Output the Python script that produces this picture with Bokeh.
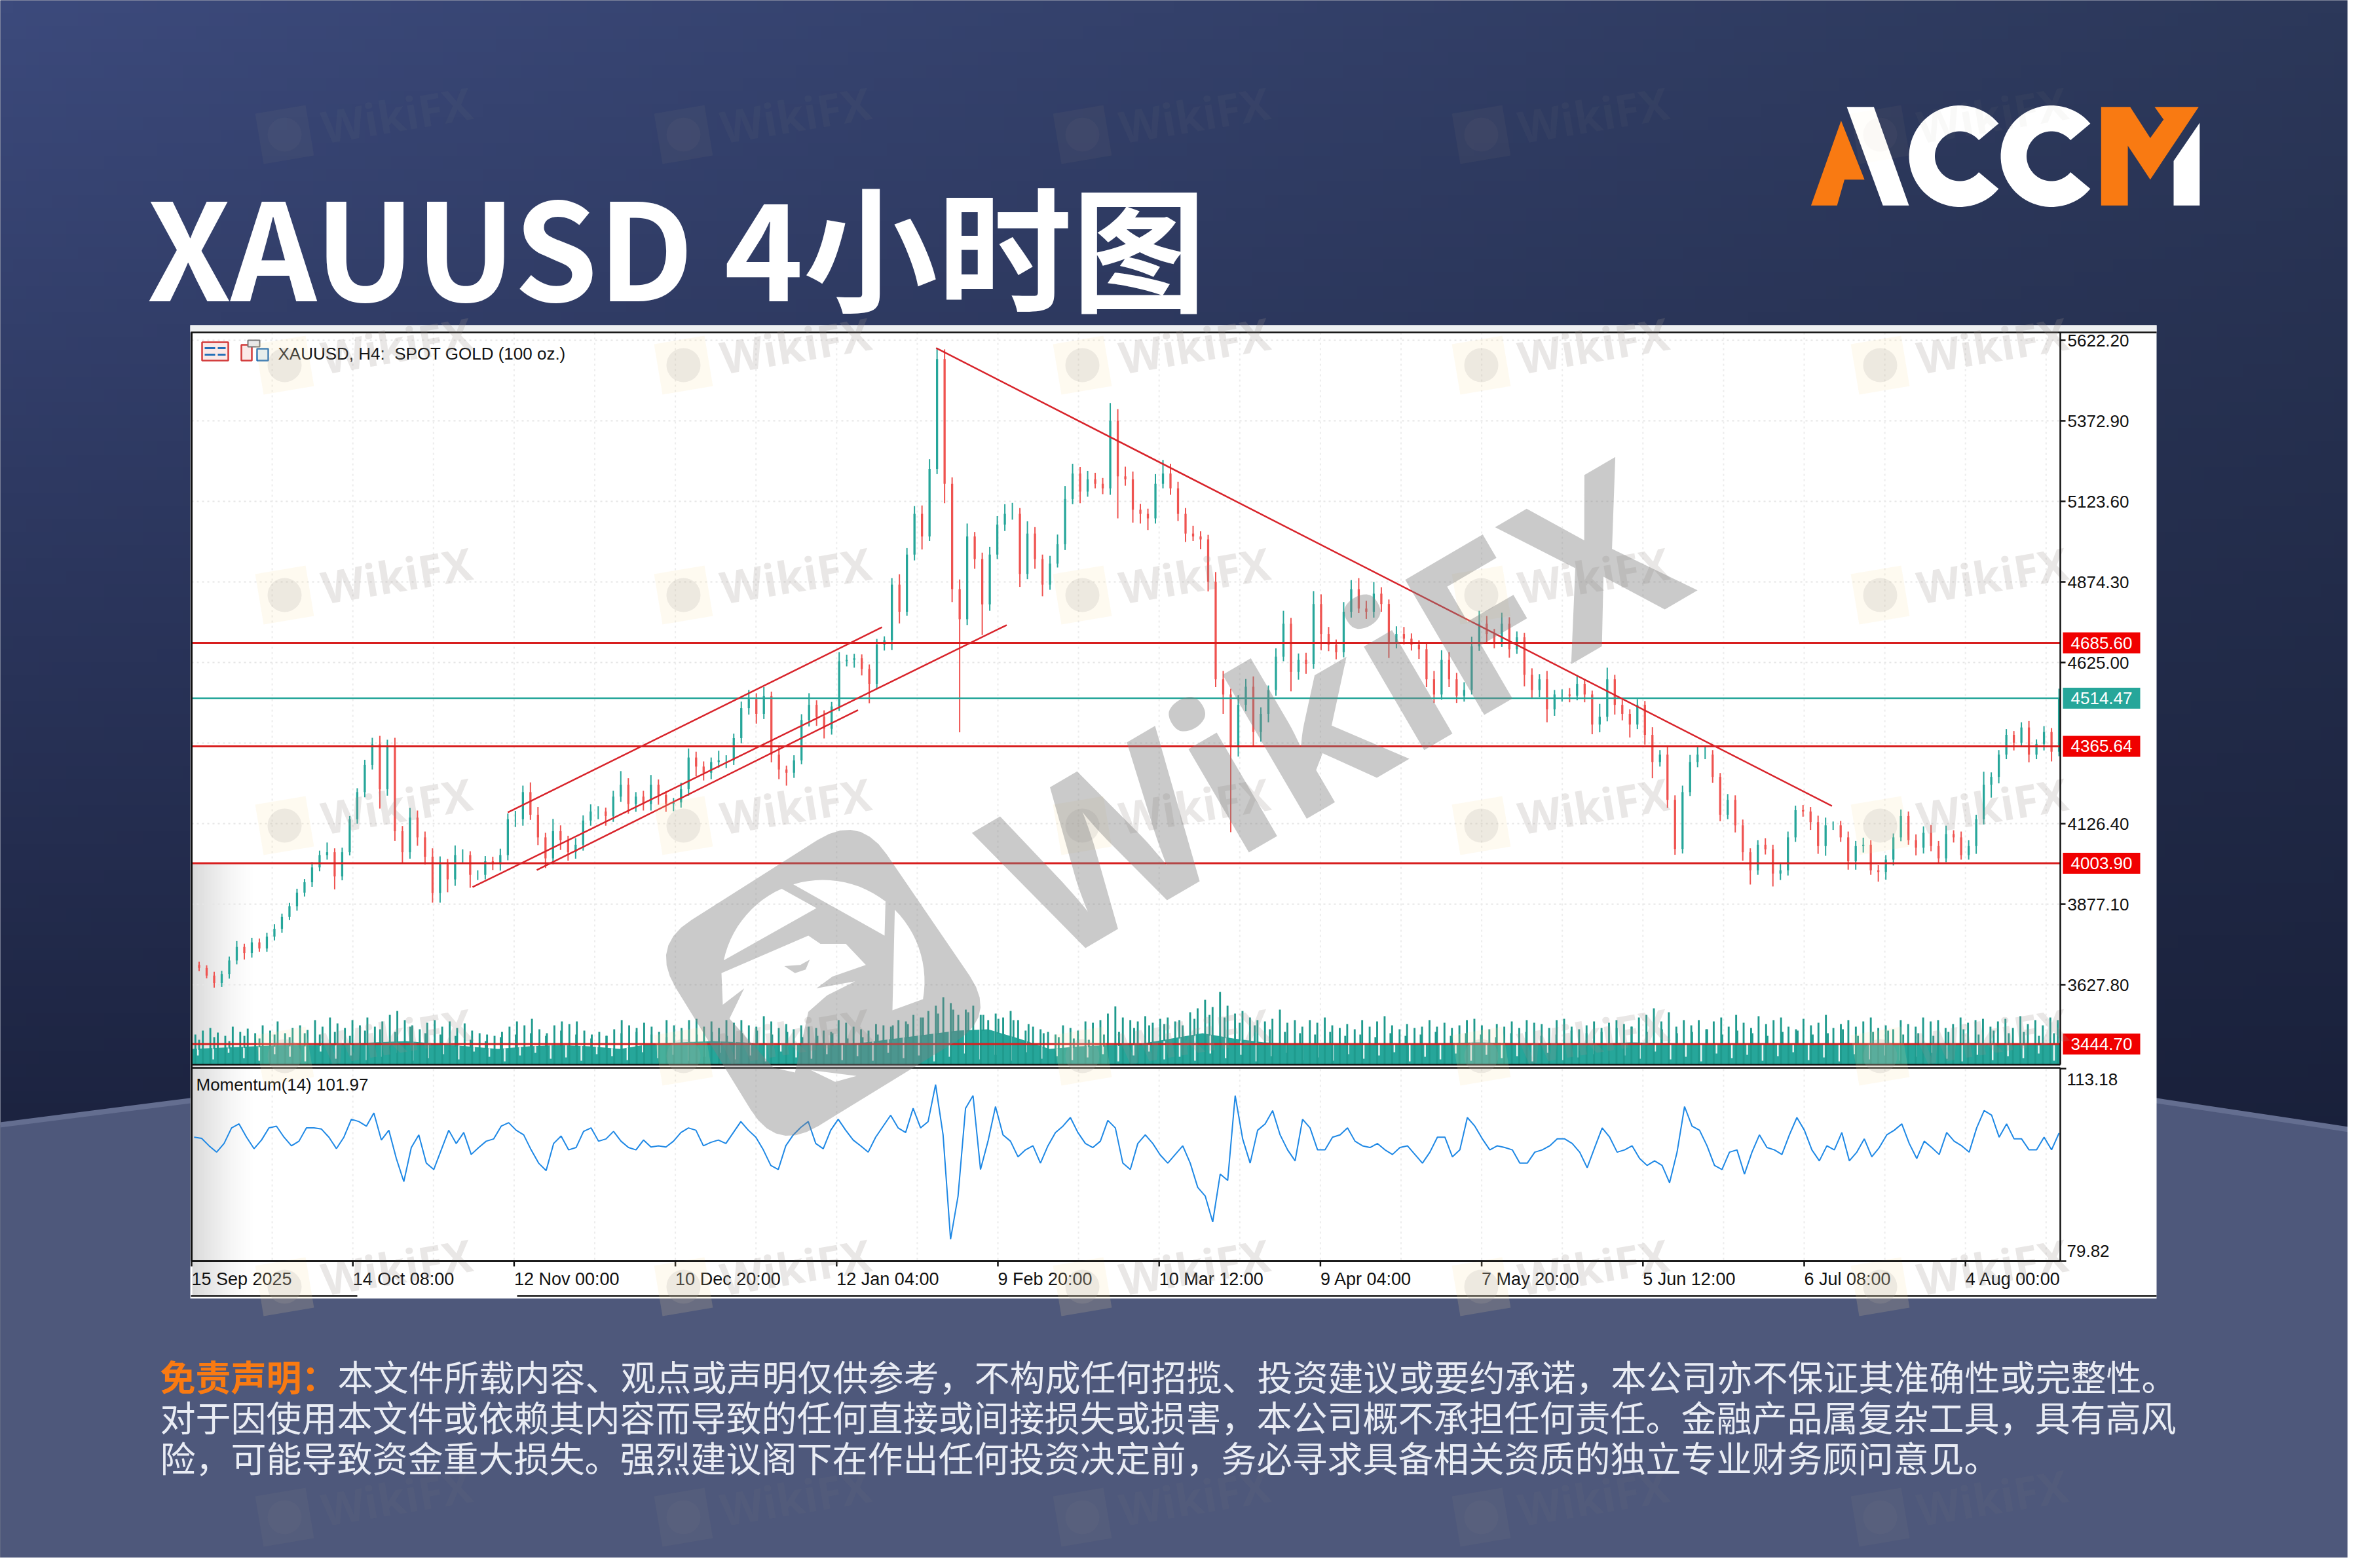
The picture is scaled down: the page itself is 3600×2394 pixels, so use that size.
import numpy as np
from bokeh.core.properties import value
from bokeh.embed import file_html
from bokeh.models import FixedTicker, LinearAxis, PrintfTickFormatter, Range1d
from bokeh.plotting import figure
from bokeh.resources import INLINE

# ---------- data ----------
closes = [3689,3680,3656,3633,3661,3703,3745,3726,3759,3740,3777,3801,3838,3871,3913,3945,3991,4029,4038,3963,
4038,4140,4224,4308,4372,4233,4368,4103,4038,4145,4084,4024,3912,4001,3954,4029,4029,3968,3968,4010,
4001,4029,4140,4140,4224,4154,4084,4019,4103,4075,4038,4061,4136,4164,4164,4150,4210,4247,4187,4210,
4187,4247,4215,4187,4192,4233,4331,4303,4284,4317,4322,4322,4391,4484,4512,4466,4521,4340,4294,4284,
4322,4447,4494,4457,4420,4489,4629,4633,4638,4605,4559,4680,4694,4866,4782,4959,5085,5015,5224,5564,
5178,4852,4759,5015,4945,4805,4959,5052,5085,5085,4899,5024,4945,4866,4931,4991,5131,5210,5154,5192,
5178,5164,5373,5201,5192,5098,5085,5071,5178,5210,5164,5085,5024,5015,5006,4875,4573,4526,4364,4494,
4550,4410,4466,4540,4643,4745,4596,4633,4620,4806,4713,4680,4657,4782,4852,4792,4782,4838,4806,4689,
4713,4699,4680,4666,4573,4526,4633,4573,4522,4540,4675,4745,4713,4689,4745,4666,4703,4587,4540,4573,
4480,4526,4526,4522,4559,4526,4433,4457,4573,4494,4466,4433,4494,4401,4317,4340,4200,4048,4224,4317,
4340,4340,4271,4154,4200,4121,4038,3982,4061,4047,3972,3982,4084,4168,4164,4131,4057,4121,4121,4084,
4010,4057,4061,3982,3977,4015,4084,4150,4075,4052,4098,4057,4019,4094,4084,4029,4057,4140,4247,4271,
4340,4401,4377,4424,4340,4373,4410,4349,4514]
wick_up = [14,10,8,12,10,12,18,10,14,12, 12,14,10,10,12,10,16,14,30,12, 14,10,12,16,20,26,18,24,16,30,
22,18,26,24,16,30,18,12,14,16, 14,20,18,26,20,30,24,14,38,18, 14,20,16,22,16,12,18,42,20,14,
18,30,16,12,14,20,28,18,16,14, 30,16,14,20,28,18,28,14,24,12, 16,18,36,14,20,14,28,16,14,12,
14,18,12,20,32,20,24,26,30,35, 30,20,30,40,14,20,24,26,30,34, 18,38,20,14,24,30,40,30,20,26,
20,18,55,36,30,24,18,16,30,42, 30,20,18,24,16,14,30,26,18,30, 24,32,20,14,26,40,18,20,22,40,
30,22,16,30,28,34,24,36,20,14, 24,22,16,14,20,26,30,24,20,24, 30,40,24,16,34,20,18,14,20,16,
26,14,16,20,24,14,12,40,36,14, 16,14,18,12,24,14,26,14,20,22, 26,24,14,12,18,14,18,12,14,20,
14,24,18,14,16,14,20,24,12,14, 18,16,22,14,16,14,12,20,14,18, 20,24,16,26,12,18,18,14,40,14,
14,18,12,16,20,14,18,12,30,10]
wick_dn = [12,10,8,14,12,14,12,20,14,10, 10,12,12,10,14,12,14,12,14,40, 12,10,14,16,14,60,20,30,34,20,
26,24,30,30,40,20,24,40,16,14, 18,20,16,24,20,16,24,30,18,30, 26,20,18,16,24,30,18,16,30,24,
20,20,30,24,22,16,20,30,24,20, 18,24,14,16,20,30,16,24,30,40, 16,12,20,28,30,18,14,16,24,20,
60,14,18,30,36,12,18,40,14,16, 60,40,350,18,30,95,20,14,20,18, 40,16,30,36,16,12,18,16,36,16,
14,18,20,130,20,40,30,36,16,14, 20,22,26,14,30,30,24,60,264,30, 20,44,30,26,18,14,60,24,30,14,
50,20,22,16,18,14,22,18,24,50, 20,18,18,30,24,26,16,24,22,18, 14,14,30,20,16,26,14,36,24,22,
40,20,22,20,14,24,30,24,14,30, 20,40,14,30,50,14,25,18,14,12, 16,14,18,20,14,22,26,44,14,16,
40,20,16,14,16,24,24,30,14,14, 26,26,20,14,30,24,18,12,14,24, 18,16,14,12,16,14,14,24,16,40,
20,14,24,12,24,14,20,30,14,10]

# Momentum, about every six bars
momentum = [101.3,101.1,99.8,98.7,100.2,102.9,103.6,101.3,99.3,100.8,102.9,103.2,101.3,99.8,100.6,102.9,102.9,102.7,101.3,99.3,
101.3,104.4,104.0,103.2,105.5,100.8,102.5,97.6,93.6,99.5,101.7,96.8,95.7,99.1,102.5,100.2,102.1,98.3,99.5,100.6,
101.0,103.2,103.8,102.5,101.7,99.1,96.8,95.5,100.2,101.5,99.1,99.5,102.3,102.9,100.6,101.0,102.3,100.6,99.5,99.1,
100.8,99.6,99.8,99.6,100.6,102.1,102.9,102.5,99.8,100.4,100.8,100.2,102.1,104.0,102.5,101.3,99.1,96.4,95.7,99.8,
101.7,103.0,104.0,100.2,99.3,102.5,104.4,102.5,100.8,99.8,98.7,101.3,103.2,105.1,102.9,102.1,106.3,102.9,104.0,110.4,
101.7,83.6,91.1,106.3,108.5,95.7,100.6,106.6,101.7,100.6,97.9,99.1,99.8,96.8,99.8,102.1,103.2,104.7,102.1,100.2,
99.5,100.6,104.2,102.9,96.8,95.7,100.2,101.7,100.2,98.2,96.8,98.3,99.8,96.8,92.6,91.1,86.6,94.9,93.8,108.5,
101.0,96.8,102.5,103.6,105.9,101.7,99.1,97.2,104.4,102.9,99.1,99.1,101.3,101.7,102.9,100.6,99.8,99.5,100.2,99.1,
98.3,99.5,99.8,98.3,96.8,98.7,101.3,101.3,97.9,99.1,104.7,103.2,101.0,99.1,99.8,99.5,99.1,96.8,96.8,98.7,
99.1,99.8,101.0,101.0,100.2,98.7,96.0,99.5,102.9,101.3,98.7,99.1,99.8,97.6,96.4,97.2,96.4,93.4,98.7,106.6,
103.2,102.5,99.8,96.4,95.7,98.7,99.1,94.9,98.7,101.7,99.5,99.1,98.3,101.7,104.7,102.5,99.1,97.2,99.8,99.1,
102.1,97.2,98.7,101.0,97.9,99.5,101.7,102.5,103.6,100.2,97.6,100.6,99.5,98.3,102.1,100.6,99.8,98.7,102.9,105.9,
105.1,101.3,103.6,101.0,101.0,99.1,99.1,101.3,99.1,102.0]

# Volume, thin tall bars about every six bars
vol_peak = [46,52,56,49,44,58,50,55,48,60, 52,66,48,56,60,53,68,58,72,63, 56,68,60,72,58,66,76,82,68,60,
54,64,68,58,66,56,63,52,48,46, 44,50,58,66,60,70,54,48,60,66, 62,66,52,46,50,44,54,68,60,56,
64,58,50,68,60,56,68,70,58,66, 56,68,64,68,60,58,74,66,56,62, 54,60,58,56,52,50,68,64,58,54,
52,62,60,58,68,66,76,72,82,90, 103,94,76,84,90,76,68,78,72,82, 68,52,58,54,50,46,60,56,52,66,
64,68,78,89,72,68,66,74,64,70, 72,66,60,80,86,99,88,111,90,78, 82,72,68,66,70,84,64,68,58,68,
64,72,60,56,62,54,68,58,66,74, 60,54,62,56,58,68,58,64,56,60, 68,70,60,54,62,58,66,56,68,64,
62,56,68,70,58,54,60,66,56,64, 68,62,58,72,76,86,66,80,58,68, 60,68,54,66,72,58,76,64,56,74,
62,68,72,58,54,70,60,64,76,56, 62,68,58,66,72,56,60,54,68,62, 58,72,66,68,56,62,72,64,68,70,
58,66,70,56,74,62,68,60,72,68]
# Volume, shorter bars between them, about every twelve bars
vol_mid = [38,42,36,44,40,46,42,48,46,50,44,52,54,50,58,48,46,44,38,36,42,46,48,44,52,46,40,44,48,50,46,42,
52,46,50,44,48,52,46,50,42,44,48,40,42,46,60,62,72,78,84,80,76,70,68,62,48,42,40,38,46,50,56,60,
62,68,70,76,72,64,60,54,50,48,46,50,44,46,42,48,44,46,50,44,48,46,42,48,50,44,46,52,48,50,56,58,
50,54,48,50,54,46,52,48,44,50,52,46,48,54,44,50,52,46,48,44,50,54,46,52,48,50,44,48]
# Volume, solid mass, every twenty-four bars
vol_body = [24,26,28,30,30,32,34,36,32,28,24,28,30,28,24,32,34,36,34,30,32,30,34,40,46,52,54,40,24,28,30,32,
40,48,40,34,32,33,32,31,32,33,34,33,32,31,32,34,33,32,31,33,32,31,33,32,31,32,33,32,31,32]
# Volume, low bars (white notches), every twelve bars
vol_low = [14,8,18,10,6,16,12,5,20,9,14,7,12,18,6,10,16,8,20,12,5,14,18,9,11,6,16,13,7,19,10,15,
6,12,18,8,14,5,20,11,9,16,7,13,6,18,10,14,5,12,17,8,15,6,19,9,13,7,11,16,5,14,20,8,
12,6,17,10,15,5,13,18,7,11,6,16,9,14,19,5,12,8,17,6,15,10,13,5,18,7,11,16,6,14,9,20,
8,12,5,17,10,15,6,13,19,7,11,5,16,8,14,6,12,18,9,5,15,7,13,10,17,6]

price_ticks = [5622.20, 5372.90, 5123.60, 4874.30, 4625.00, 4126.40, 3877.10, 3627.80]
price_hidden_tick = 4375.70
mom_ticks = [113.18, 79.82]
date_bars = [0, 128, 256, 384, 512, 640, 768, 896, 1024, 1152, 1280, 1408]
date_labels = ["15 Sep 2025", "14 Oct 08:00", "12 Nov 00:00", "10 Dec 20:00", "12 Jan 04:00", "9 Feb 20:00",
               "10 Mar 12:00", "9 Apr 04:00", "7 May 20:00", "5 Jun 12:00", "6 Jul 08:00", "4 Aug 00:00"]
red_levels = [4685.60, 4365.64, 4003.90, 3444.70]
last_price = 4514.47
trend_bars = [[591, 1302], [251, 548], [223, 647], [274, 529]]
trend_prices = [[5598, 4181], [4161, 4734], [3930, 4741], [3983, 4478]]

title_text = "XAUUSD 4小时图"
chart_title = "XAUUSD, H4:\u00a0\u00a0SPOT GOLD (100 oz.)"
mom_title = "Momentum(14) 101.97"
disc_head = "免责声明\uff1a"
disc_1 = "本文件所载内容、观点或声明仅供参考\uff0c不构成任何招揽、投资建议或要约承诺\uff0c本公司亦不保证其准确性或完整性。"
disc_2 = "对于因使用本文件或依赖其内容而导致的任何直接或间接损失或损害\uff0c本公司概不承担任何责任。金融产品属复杂工具\uff0c具有高风"
disc_3 = "险\uff0c可能导致资金重大损失。强烈建议阁下在作出任何投资决定前\uff0c务必寻求具备相关资质的独立专业财务顾问意见。"

# ---------- geometry of the page ----------
LEFT, RIGHT, TOP, BOTTOM = 8, 3592, 8, 2386
PX_PER_BAR = 246.2 / 128
AX_X = 3153
X0_BAR = 300
def bar_of(px): return (px - X0_BAR) / PX_PER_BAR
PRICE_Y0, PRICE_REF, PX_PER_PRICE = 527.0, 5622.2, 0.4934
def price_of(py): return PRICE_REF - (py - PRICE_Y0) / PX_PER_PRICE
MOM_Y0, MOM_REF, MOM_PER_PX = 1639.0, 113.18, 33.36 / 294
def mom_of(py): return MOM_REF - (py - MOM_Y0) * MOM_PER_PX
VOL_Y0 = 1633.0
def vol_of(py): return VOL_Y0 - py

p = figure(width=RIGHT - LEFT, height=BOTTOM - TOP, x_range=Range1d(LEFT, RIGHT), y_range=Range1d(BOTTOM, TOP),
           x_axis_type=None, y_axis_type=None, min_border=0, toolbar_location=None, output_backend="svg",
           outline_line_color=None, background_fill_color="#2a3558", border_fill_color="#2a3558")
p.grid.visible = False
p.extra_x_ranges["bars"] = Range1d(bar_of(LEFT), bar_of(RIGHT))
p.extra_y_ranges["price"] = Range1d(price_of(BOTTOM), price_of(TOP))
p.extra_y_ranges["mom"] = Range1d(mom_of(BOTTOM), mom_of(TOP))
p.extra_y_ranges["vol"] = Range1d(vol_of(BOTTOM), vol_of(TOP))
p.extra_y_ranges["up"] = Range1d(-BOTTOM, -TOP)

# ---------- backdrop ----------
def rgba(r, g, b, a=255):
    return (a << 24) | (b << 16) | (g << 8) | r
gh, gw = 120, 180
fy = np.linspace(0, 1, gh)[:, None]   # 0 bottom, 1 top
fx = np.linspace(0, 1, gw)[None, :]
TL, TR, BL, BR = (60, 74, 124), (44, 56, 90), (27, 34, 62), (25, 32, 58)
chan = []
for ci in range(3):
    t = TL[ci] * (1 - fx) + TR[ci] * fx
    b = BL[ci] * (1 - fx) + BR[ci] * fx
    f = np.clip((fy - 0.25) / 0.75, 0, 1)
    chan.append((b * (1 - f) + t * f).astype(np.uint32))
bg = (255 << 24) | (chan[2] << 16) | (chan[1] << 8) | chan[0]
p.image_rgba(image=[bg.astype(np.uint32)], x=LEFT, y=-BOTTOM, dw=RIGHT - LEFT, dh=BOTTOM - TOP, y_range_name="up")

low_x = [0, 298, 1800, 3300, 3600, 3600, 0]
low_y = [1726, 1688, 1660, 1688, 1733, 2394, 2394]
p.patch(low_x, low_y, fill_color="#4e587b", line_color=None)
p.line(low_x[:5], low_y[:5], line_color="#646e90", line_width=8)

# ---------- title ----------
p.text([232], [378], text=[title_text], text_font=value("Noto Sans CJK SC"), text_font_style="bold",
       text_font_size="205px", text_color="white", text_baseline="middle", text_align="left")

# ---------- logo ----------
def L(pts):
    return [2650 + a / 1.96 for a, _ in pts], [100 + b / 3 for _, b in pts]
ORANGE = "#f97a12"
for pts, col in [
    ([(240, 664), (330, 275), (400, 545), (340, 545), (318, 664)], ORANGE),
    ([(347, 212), (428, 212), (533, 664), (455, 664)], "white"),
    ([(1108, 212), (1195, 212), (1255, 355), (1295, 270), (1268, 212), (1400, 212), (1255, 545), (1188, 390), (1188, 664), (1108, 664)], ORANGE),
    ([(1403, 285), (1403, 664), (1325, 664), (1325, 460)], "white"),
]:
    xs, ys = L(pts)
    p.patch(xs, ys, fill_color=col, line_color=None)
for cx in (2999.5, 3139.5):
    a = np.radians(np.linspace(40, 320, 60))
    xs = np.r_[cx + 77.5 * np.cos(a), cx + 38 * np.cos(a[::-1])]
    ys = np.r_[246 - 77.5 * np.sin(a), 246 - 38 * np.sin(a[::-1])]
    p.patch(xs, ys, fill_color="white", line_color=None)

# ---------- chart panel ----------
p.quad(left=[298], right=[3300], top=[504], bottom=[1990], fill_color="white", line_color=None)
p.quad(left=[298], right=[3300], top=[504], bottom=[514], fill_color="#eef0f2", line_color=None)
shade = np.zeros((1, 40), dtype=np.uint32)
shade[0, :] = [rgba(0, 0, 0, int(38 * (1 - i / 39) ** 1.4)) for i in range(40)]
p.image_rgba(image=[shade], x=301, y=-1985, dw=100, dh=660, y_range_name="up")

# grid
grid_bars = np.arange(0, 1483, 64)
bar_end = bar_of(AX_X)
ptop, pbot = price_of(515), price_of(1633)
p.segment(x0=0, x1=bar_end, y0=price_ticks + [price_hidden_tick], y1=price_ticks + [price_hidden_tick],
          x_range_name="bars", y_range_name="price", line_color="#e6e6e6", line_width=2, line_dash="3 5")
p.segment(x0=grid_bars, x1=grid_bars, y0=ptop, y1=pbot, x_range_name="bars", y_range_name="price",
          line_color="#ececec", line_width=2, line_dash="3 5")
p.segment(x0=grid_bars, x1=grid_bars, y0=mom_of(1640), y1=mom_of(1933), x_range_name="bars", y_range_name="mom",
          line_color="#ececec", line_width=2, line_dash="3 5")

# volume
body = np.array(vol_body, float)
body_x = np.linspace(0, bar_end, len(body))
p.varea(x=body_x, y1=np.zeros(len(body)), y2=body, x_range_name="bars", y_range_name="vol", fill_color="#26a69a")
low = np.array(vol_low, float)
low_bars = np.linspace(5, bar_end - 5, len(low))
low_top = np.interp(low_bars, body_x, body)
p.vbar(x=low_bars, width=1.3, top=low_top, bottom=low, x_range_name="bars", y_range_name="vol",
       fill_color="#e8f6f4", line_color=None)
mid = np.array(vol_mid, float)
p.vbar(x=np.linspace(6, bar_end - 5, len(mid)), width=1.5, top=mid, bottom=np.interp(np.linspace(6, bar_end - 5, len(mid)), body_x, body) - 2,
       x_range_name="bars", y_range_name="vol", fill_color="#1f9a8d", line_color=None)
peak = np.array(vol_peak, float)
p.vbar(x=np.linspace(3, bar_end - 2, len(peak)), width=1.5, top=peak, bottom=0, x_range_name="bars", y_range_name="vol",
       fill_color="#1f9a8d", line_color=None)

# candles
c = np.array(closes, float)
o = np.r_[c[0], c[:-1]]
n = len(c)
up = np.array(wick_up[:n], float)
dn = np.array(wick_dn[:n], float)
hi = np.maximum(o, c) + up
lo = np.minimum(o, c) - dn
bx = np.linspace(0, bar_end - 1, n)
cols = np.where(c >= o, "#26a69a", "#ef5350").tolist()
p.segment(x0=bx, x1=bx, y0=lo, y1=hi, x_range_name="bars", y_range_name="price", line_color=cols, line_width=2)
p.vbar(x=bx, width=1.7, top=np.maximum(o, c), bottom=np.minimum(o, c), x_range_name="bars", y_range_name="price",
       fill_color=cols, line_color=None)

# levels and trend lines
p.segment(x0=0, x1=bar_end, y0=red_levels, y1=red_levels, x_range_name="bars", y_range_name="price",
          line_color="#d81e1e", line_width=3)
p.segment(x0=0, x1=bar_end, y0=[last_price], y1=[last_price], x_range_name="bars", y_range_name="price",
          line_color="#26a69a", line_width=2.5)
p.multi_line(trend_bars, trend_prices, x_range_name="bars", y_range_name="price", line_color="#d8232a", line_width=2.5)

# momentum
p.line(np.linspace(2, bar_end - 1, len(momentum)), momentum, x_range_name="bars", y_range_name="mom",
       line_color="#1e88e5", line_width=2)

# frame lines
FRAME = "#111111"
p.segment(x0=[299, 299, 299, 299, 299, 797], x1=[3300, 3153, 3153, 3153, 553, 3300],
          y0=[515, 1633, 1638, 1933, 1986, 1986], y1=[515, 1633, 1638, 1933, 1986, 1986],
          line_color=FRAME, line_width=2.5)
p.segment(x0=[300], x1=[300], y0=[515], y1=[1933], line_color=FRAME, line_width=3)

# axes: price labels come from the axis; the two panes whose labels sit off their ticks carry them as text
AX_FONT = "Liberation Sans"
price_axis = LinearAxis(y_range_name="price", fixed_location=AX_X, ticker=FixedTicker(ticks=price_ticks),
                        formatter=PrintfTickFormatter(format="%.2f"), bounds=(pbot, ptop))
mom_axis = LinearAxis(y_range_name="mom", fixed_location=AX_X, ticker=FixedTicker(ticks=[]),
                      bounds=(mom_of(1933), mom_of(1638)))
date_axis = LinearAxis(x_range_name="bars", fixed_location=1933, ticker=FixedTicker(ticks=[]), bounds=(0, bar_end))
for ax, side in [(price_axis, "right"), (mom_axis, "right"), (date_axis, "below")]:
    ax.major_tick_in, ax.major_tick_out, ax.minor_tick_in, ax.minor_tick_out = 0, 8, 0, 0
    ax.axis_line_color = FRAME
    ax.axis_line_width = 2.5
    ax.major_tick_line_color = FRAME
    ax.major_tick_line_width = 2.5
    ax.major_label_text_font = AX_FONT
    ax.major_label_text_color = "#111111"
    ax.major_label_standoff = 3
    p.add_layout(ax, side)
price_axis.major_label_text_font_size = "26px"

p.segment(x0=bar_end, x1=bar_of(AX_X + 9), y0=mom_ticks, y1=mom_ticks, x_range_name="bars", y_range_name="mom",
          line_color=FRAME, line_width=2.5)
p.text([3163, 3163], mom_ticks, text=["%.2f" % m for m in mom_ticks], y_range_name="mom", y_offset=[16, -16],
       text_font=value(AX_FONT), text_font_size="26px", text_color="#111111", text_baseline="middle", text_align="left")
p.segment(x0=date_bars, x1=date_bars, y0=mom_of(1933), y1=mom_of(1941), x_range_name="bars", y_range_name="mom",
          line_color=FRAME, line_width=2.5)
p.text(date_bars, mom_of(1960), text=date_labels, x_range_name="bars", y_range_name="mom",
       text_font=value(AX_FONT), text_font_size="27px", text_color="#111111", text_baseline="middle", text_align="left")

# price tags
tag_y = red_levels + [last_price]
tag_col = ["#f00000"] * len(red_levels) + ["#26a69a"]
p.rect(x=3216, y=tag_y, width=118, height=32, height_units="screen", y_range_name="price",
       fill_color=tag_col, line_color=None)
p.text(x=3216, y=tag_y, text=["%.2f" % v for v in tag_y], y_range_name="price", text_font=value(AX_FONT),
       text_font_size="26px", text_color="white", text_align="center", text_baseline="middle")

# chart captions and icons
p.text([432], [547], text=[chart_title], text_font=value(AX_FONT), text_font_size="26px", text_color="#111111",
       text_baseline="middle")
p.text([307], [1663], text=[mom_title], text_font=value(AX_FONT), text_font_size="26px", text_color="#111111",
       text_baseline="middle")
p.quad(left=[316], right=[356], top=[530], bottom=[558], fill_color="#fbe9e7", line_color="#d23b3b", line_width=2.5)
p.segment(x0=[320, 320, 340, 340], x1=[336, 336, 352, 352], y0=[539, 549, 539, 549], y1=[539, 549, 539, 549],
          line_color="#2470b8", line_width=3)
p.quad(left=[376], right=[392], top=[534], bottom=[558], fill_color="#fbe9e7", line_color="#d23b3b", line_width=2.5)
p.quad(left=[400], right=[417], top=[540], bottom=[558], fill_color="#e4f1fb", line_color="#2470b8", line_width=2.5)
p.quad(left=[386], right=[404], top=[527], bottom=[537], fill_color="#e8e8e8", line_color="#777777", line_width=2)

# ---------- small watermarks ----------
wm_cols = [442, 1051, 1660, 2269, 2878]
wm_rows = [213, 565, 916, 1268, 1620, 1972, 2324]
tx, ty, ta = [], [], []
for r in wm_rows:
    for q in wm_cols:
        tx.append(q); ty.append(r)
        ta.append(0.07 if r in (213, 2324) else 1.0)
ta = np.array(ta)
tilt = np.radians(9.5)
p.rect(x=tx, y=ty, width=78, height=78, angle=tilt, fill_color="#f6dfa0",
       fill_alpha=np.where(ta < 1, 0.04, 0.16), line_color=None)
p.circle(x=tx, y=ty, radius=26, fill_color="#a9a5a2", fill_alpha=np.where(ta < 1, 0.05, 0.20), line_color=None)
p.text(x=np.array(tx) + 171, y=np.array(ty) - 31, text=["WikiFX"] * len(tx), angle=tilt, text_font=value("Open Sans"),
       text_font_style="bold", text_font_size="68px", text_color="#9a928e", text_alpha=np.where(ta < 1, 0.06, 0.22),
       text_align="center", text_baseline="middle")

# ---------- large watermark ----------
WM_GRAY, WM_A = "#808080", 0.42
p.text([2040], [1085], text=["WikiFX"], angle=np.radians(30.3), text_font=value("Open Sans"), text_font_style="bold",
       text_font_size="335px", text_color=WM_GRAY, text_alpha=WM_A, text_align="center", text_baseline="middle")

def rounded(corners, r, k=8):
    pts = np.array(corners, float)
    out = []
    m = len(pts)
    for i in range(m):
        a, b, c2 = pts[i - 1], pts[i], pts[(i + 1) % m]
        u = (a - b) / np.hypot(*(a - b))
        v = (c2 - b) / np.hypot(*(c2 - b))
        for t in np.linspace(0, 1, k):
            s = b + r * u
            e = b + r * v
            out.append((1 - t) ** 2 * s + 2 * t * (1 - t) * b + t ** 2 * e)
    out = np.array(out)
    return out[:, 0].tolist(), out[:, 1].tolist()

Z = lambda pts: ([960 + a / 2.45 for a, _ in pts], [1220 + b / 2.8 for _, b in pts])
CX, CY, CR = 1264.0, 1506.0, 155.0
def arc(a0, a1, k=14):
    t = np.radians(np.linspace(a0, a1, k))
    return (CX + CR * np.cos(t)).tolist(), (CY - CR * np.sin(t)).tolist()

ox, oy = rounded([(1319, 1250), (1000, 1452), (1193, 1766), (1530, 1559)], 75)
holes = []
ax1, ay1 = arc(168, 114)
holes.append(([1254] + ax1, [1394] + ay1))
ax2, ay2 = arc(107, 52)
holes.append((ax2 + [1358], ay2 + [1436]))
ax3, ay3 = arc(45, -10)
holes.append((ax3 + [1370], ay3 + [1550]))
holes.append(Z([(365, 765), (690, 605), (735, 640), (830, 640), (905, 730), (780, 780), (720, 830), (865, 800), (760, 860),
                (690, 930), (640, 1190), (560, 1170), (395, 960), (450, 830), (370, 900)]))
holes.append(Z([(700, 1180), (870, 1205), (790, 1230)]))
p.multi_polygons(xs=[[[ox] + [h[0] for h in holes]]], ys=[[[oy] + [h[1] for h in holes]]],
                 fill_color=WM_GRAY, fill_alpha=WM_A, line_color=None)
ex, ey = Z([(600, 735), (660, 730), (695, 708), (680, 750), (640, 765)])
p.patch(ex, ey, fill_color=WM_GRAY, fill_alpha=WM_A, line_color=None)

# ---------- disclaimer ----------
D_FONT = value("Noto Sans CJK SC")
p.text([252], [2108], text=[disc_head], text_font=D_FONT, text_font_style="bold", text_font_size="54px",
       text_color="#f97a12", text_baseline="middle")
p.text([523, 252, 252], [2108, 2170, 2232], text=[disc_1, disc_2, disc_3], text_font=D_FONT, text_font_size="54px",
       text_color="#e9ecf4", text_baseline="middle")

open("out.html", "w").write(file_html(p, INLINE))
